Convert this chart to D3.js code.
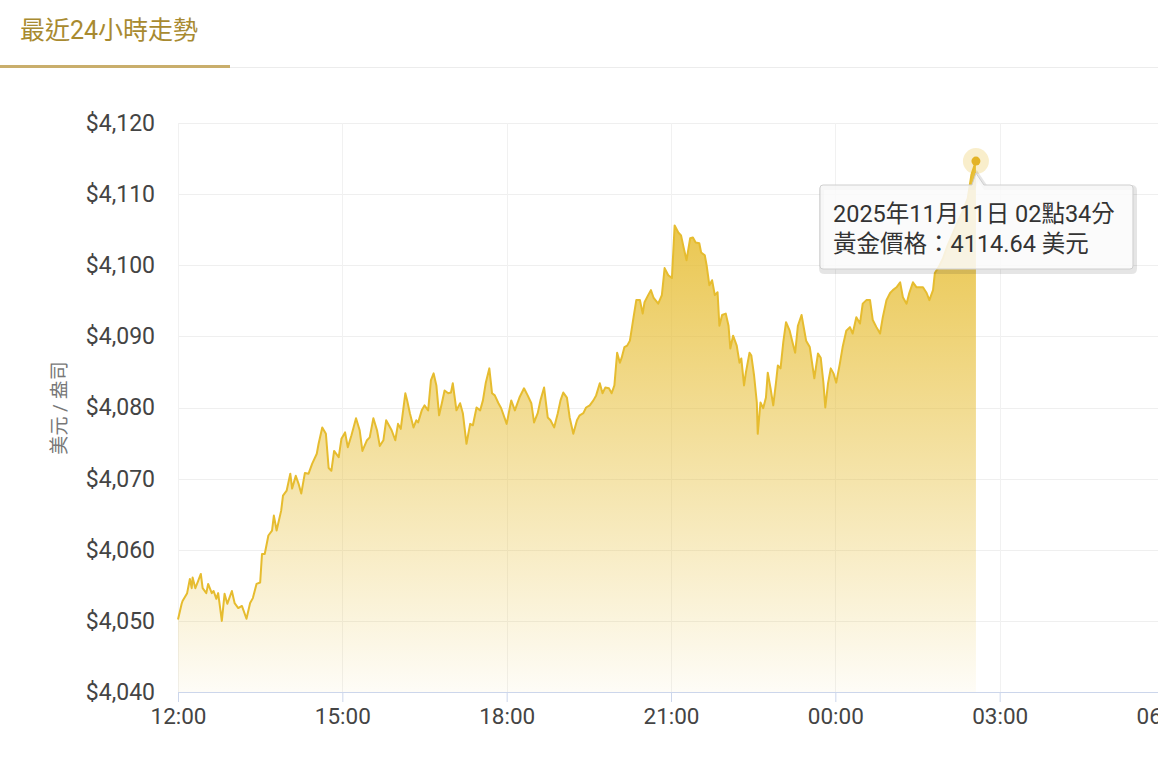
<!DOCTYPE html>
<html>
<head>
  <meta charset="utf-8">
  <script src="https://cdn.jsdelivr.net/npm/d3@7"></script>
  <style>
    body { margin: 0; background: #fff; font-family: Roboto, "Noto Sans CJK TC", sans-serif; }
    svg { display: block; }
  </style>
</head>
<body>
<script type="text/javascript">
  // gold price, last 24h (minutes after 2025-11-10 12:00, USD / oz)
  var startTime = "2025-11-10T12:00:00";
  var minutes = [0, 4, 5, 10, 13, 15, 16, 19, 22, 25, 27, 31, 33, 37, 39, 42, 44, 48, 51, 54,
    59, 62, 66, 70, 75, 79, 82, 86, 90, 92, 95, 99, 103, 105, 108, 113, 115, 119, 123, 125,
    129, 132, 135, 139, 143, 147, 152, 154, 158, 162, 165, 168, 171, 176, 179, 183, 186, 190, 195, 199,
    202, 207, 210, 214, 218, 221, 225, 228, 231, 234, 238, 241, 244, 249, 251, 254, 258, 261, 263, 267,
    270, 274, 277, 280, 283, 286, 289, 292, 296, 299, 301, 305, 309, 312, 316, 320, 323, 327, 331, 334,
    337, 341, 344, 347, 351, 354, 360, 365, 369, 374, 379, 383, 387, 390, 394, 397, 401, 405, 408, 412,
    416, 419, 422, 426, 429, 433, 437, 440, 444, 447, 451, 455, 458, 462, 465, 468, 472, 475, 478, 481,
    484, 486, 489, 492, 495, 499, 502, 506, 509, 511, 515, 518, 521, 526, 530, 533, 537, 541, 544, 548,
    551, 554, 557, 561, 564, 567, 571, 573, 577, 579, 582, 585, 588, 591, 593, 596, 600, 603, 605, 608,
    612, 615, 617, 620, 622, 626, 628, 631, 634, 635, 638, 641, 644, 646, 649, 652, 655, 657, 660, 663,
    666, 670, 673, 676, 679, 683, 688, 692, 697, 701, 704, 707, 709, 712, 715, 718, 721, 725, 728, 732,
    736, 739, 743, 747, 750, 754, 758, 761, 765, 769, 772, 776, 780, 783, 787, 791, 794, 798, 801, 805,
    809, 812, 816, 820, 823, 827, 829, 833, 838, 843, 849, 854, 860, 865, 869, 874];
  var prices = [4050.2, 4052.4, 4052.8, 4053.9, 4055.9, 4054.6, 4056.1, 4054.6, 4055.6, 4056.6,
    4054.6, 4053.9, 4055.2, 4053.9, 4054.2, 4053.1, 4053.9, 4050.0, 4053.8, 4052.4,
    4054.2, 4052.5, 4051.8, 4052.1, 4050.3, 4052.5, 4053.2, 4055.2, 4055.4, 4059.4,
    4059.4, 4062.0, 4062.7, 4064.8, 4062.7, 4065.5, 4067.6, 4068.3, 4070.7, 4068.6,
    4070.4, 4069.3, 4067.9, 4070.8, 4070.7, 4072.1, 4073.5, 4074.9, 4077.2, 4076.3,
    4071.5, 4071.1, 4073.9, 4073.0, 4075.6, 4076.5, 4074.4, 4076.1, 4078.5, 4076.8,
    4073.9, 4075.4, 4075.8, 4078.5, 4076.8, 4074.6, 4075.4, 4078.2, 4077.5, 4076.8,
    4075.4, 4077.7, 4077.0, 4082.0, 4081.0, 4079.2, 4077.2, 4078.2, 4077.9, 4079.6,
    4080.3, 4079.6, 4083.8, 4084.8, 4083.1, 4078.9, 4080.6, 4082.4, 4082.0, 4082.1,
    4083.4, 4079.6, 4080.6, 4079.2, 4074.9, 4077.7, 4077.5, 4080.0, 4079.6, 4081.0,
    4083.4, 4085.5, 4082.0, 4081.7, 4080.6, 4079.9, 4077.7, 4081.0, 4079.6, 4081.4,
    4082.7, 4081.7, 4080.6, 4077.9, 4079.2, 4081.0, 4082.8, 4078.6, 4078.2, 4077.2,
    4079.2, 4081.0, 4082.1, 4081.4, 4078.6, 4076.3, 4078.2, 4078.9, 4079.2, 4080.0,
    4080.3, 4081.0, 4081.7, 4083.4, 4082.0, 4082.8, 4082.7, 4082.0, 4083.1, 4087.7,
    4086.3, 4087.0, 4088.5, 4088.7, 4089.4, 4092.7, 4095.1, 4095.1, 4093.2, 4094.8,
    4095.8, 4096.5, 4095.4, 4094.6, 4095.8, 4099.6, 4098.6, 4098.2, 4105.6, 4104.6,
    4104.2, 4102.4, 4100.7, 4103.8, 4103.9, 4103.2, 4103.1, 4101.8, 4101.4, 4100.0,
    4097.2, 4097.9, 4095.8, 4096.2, 4091.5, 4093.0, 4093.2, 4091.5, 4088.3, 4090.1,
    4088.7, 4086.3, 4086.9, 4083.1, 4084.9, 4087.7, 4087.3, 4084.5, 4080.7, 4076.3,
    4080.7, 4079.9, 4081.4, 4084.9, 4082.7, 4080.3, 4083.5, 4085.9, 4085.5, 4089.2,
    4092.0, 4090.8, 4089.2, 4087.7, 4091.5, 4093.0, 4089.4, 4088.5, 4084.1, 4087.6,
    4087.0, 4083.4, 4080.0, 4083.4, 4085.5, 4084.8, 4083.5, 4086.2, 4088.5, 4090.8,
    4091.3, 4090.4, 4092.7, 4091.8, 4094.6, 4095.1, 4095.1, 4092.3, 4091.3, 4090.4,
    4092.7, 4095.1, 4096.1, 4096.5, 4096.9, 4097.6, 4095.5, 4094.6, 4096.1, 4097.6,
    4096.9, 4096.9, 4096.9, 4096.1, 4095.1, 4096.5, 4098.9, 4099.7, 4101.0, 4102.8,
    4104.6, 4106.1, 4107.7, 4109.4, 4112.7, 4114.64];

  var yTicks = [4040, 4050, 4060, 4070, 4080, 4090, 4100, 4110, 4120];
  var xTickHours = [12, 15, 18, 21, 0, 3, 6];

  var width = 1158, height = 774;
  var gold = "#e6bc2f";

  var t0 = new Date(startTime);
  var data = minutes.map(function (m, i) {
    return { date: new Date(t0.getTime() + m * 60000), price: prices[i] };
  });

  var svg = d3.select("body").append("svg")
      .attr("width", width)
      .attr("height", height);

  // header tab
  svg.append("text")
      .attr("x", 20).attr("y", 39)
      .style("font-size", "25px")
      .style("fill", "#a88a30")
      .text("最近24小時走勢");
  svg.append("rect").attr("x", 0).attr("y", 67).attr("width", width).attr("height", 1).attr("fill", "#ececec");
  svg.append("rect").attr("x", 0).attr("y", 65).attr("width", 230).attr("height", 3).attr("fill", "#c9ae6c");

  // scales
  var x = d3.scaleTime()
      .domain([t0, new Date(t0.getTime() + 18 * 3600000)])
      .range([178, 1164]);
  var y = d3.scaleLinear()
      .domain([4040, 4120])
      .range([692, 123]);

  var xTickDates = xTickHours.map(function (h, i) { return new Date(t0.getTime() + i * 3 * 3600000); });

  // grid
  svg.append("g").selectAll("line")
      .data(yTicks.slice(1))
      .enter().append("line")
      .attr("x1", 178).attr("x2", width)
      .attr("y1", function (d) { return Math.round(y(d)) + 0.5; })
      .attr("y2", function (d) { return Math.round(y(d)) + 0.5; })
      .style("stroke", "#efefef");
  svg.append("g").selectAll("line")
      .data(xTickDates)
      .enter().append("line")
      .attr("x1", function (d) { return Math.round(x(d)) + 0.5; })
      .attr("x2", function (d) { return Math.round(x(d)) + 0.5; })
      .attr("y1", 123).attr("y2", 692)
      .style("stroke", "#f1f1f1");

  // gradient fill
  var grad = svg.append("defs").append("linearGradient")
      .attr("id", "goldFill")
      .attr("x1", 0).attr("x2", 0).attr("y1", 0).attr("y2", 1);
  grad.append("stop").attr("offset", "0%").attr("stop-color", gold).attr("stop-opacity", 0.95);
  grad.append("stop").attr("offset", "100%").attr("stop-color", gold).attr("stop-opacity", 0.04);

  var area = d3.area()
      .x(function (d) { return x(d.date); })
      .y0(y(4040))
      .y1(function (d) { return y(d.price); });
  var line = d3.line()
      .x(function (d) { return x(d.date); })
      .y(function (d) { return y(d.price); });

  svg.append("path").datum(data)
      .attr("d", area)
      .attr("fill", "url(#goldFill)");
  svg.append("path").datum(data)
      .attr("d", line)
      .attr("fill", "none")
      .attr("stroke", gold)
      .attr("stroke-width", 2)
      .attr("stroke-linejoin", "round");

  // x axis
  var xAxis = d3.axisBottom(x)
      .tickValues(xTickDates)
      .tickFormat(d3.timeFormat("%H:%M"))
      .tickSize(10)
      .tickPadding(6);
  var gx = svg.append("g")
      .attr("transform", "translate(0,692)")
      .call(xAxis);
  gx.select(".domain").attr("d", "M178,0.5H" + width).style("stroke", "#ccd6eb");
  gx.selectAll(".tick line").style("stroke", "#ccd6eb");
  gx.selectAll(".tick text")
      .style("font-family", "Roboto, sans-serif")
      .style("font-size", "22.5px")
      .style("fill", "#444");

  // y axis labels
  var yAxis = d3.axisLeft(y)
      .tickValues(yTicks)
      .tickFormat(function (d) { return "$" + d3.format(",")(d); })
      .tickSize(0)
      .tickPadding(23);
  var gy = svg.append("g")
      .attr("transform", "translate(178,0)")
      .call(yAxis);
  gy.select(".domain").remove();
  gy.selectAll(".tick text")
      .style("font-family", "Roboto, sans-serif")
      .style("font-size", "23px")
      .style("fill", "#444");

  svg.append("text")
      .attr("transform", "translate(66,408) rotate(-90)")
      .attr("text-anchor", "middle")
      .style("font-size", "19px")
      .style("fill", "#777")
      .text("美元 / 盎司");

  // last point marker
  var last = data[data.length - 1];
  var px = x(last.date), py = y(last.price);
  svg.append("circle").attr("cx", px).attr("cy", py).attr("r", 13)
      .attr("fill", gold).attr("opacity", 0.25);
  svg.append("circle").attr("cx", px).attr("cy", py).attr("r", 4.5)
      .attr("fill", "#e3b326");

  // tooltip (callout)
  var bx = 820, by = 185, bw = 313, bh = 84;
  var tip = svg.append("g");
  var callout = "M" + (bx + 3) + "," + by +
      "H" + (px - 4) + "L" + px + "," + (py + 12) + "L" + (px + 8) + "," + by +
      "H" + (bx + bw - 3) + "Q" + (bx + bw) + "," + by + " " + (bx + bw) + "," + (by + 3) +
      "V" + (by + bh - 3) + "Q" + (bx + bw) + "," + (by + bh) + " " + (bx + bw - 3) + "," + (by + bh) +
      "H" + (bx + 3) + "Q" + bx + "," + (by + bh) + " " + bx + "," + (by + bh - 3) +
      "V" + (by + 3) + "Q" + bx + "," + by + " " + (bx + 3) + "," + by + "Z";
  tip.append("path").attr("d", callout)
      .attr("transform", "translate(1.5,2.5)")
      .attr("fill", "none").attr("stroke", "#000").attr("stroke-opacity", 0.1).attr("stroke-width", 5);
  tip.append("path").attr("d", callout)
      .attr("fill", "#fafafa").attr("fill-opacity", 0.85)
      .attr("stroke", "#cfcfcf").attr("stroke-width", 1);
  var fmt = d3.timeFormat("%Y年%m月%d日 %H點%M分");
  tip.append("text").attr("x", bx + 13).attr("y", by + 37)
      .style("font-size", "23.5px").style("fill", "#333")
      .text(fmt(last.date));
  tip.append("text").attr("x", bx + 13).attr("y", by + 67)
      .style("font-size", "23.5px").style("fill", "#333")
      .text("黃金價格：" + last.price.toFixed(2) + " 美元");
</script>
</body>
</html>
